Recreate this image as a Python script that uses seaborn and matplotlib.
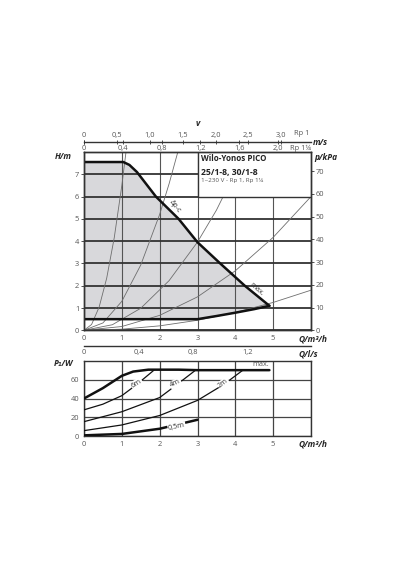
import matplotlib
matplotlib.use("Agg")
import matplotlib.pyplot as plt
import seaborn as sns
from matplotlib.patches import Rectangle

# ---- data ----
# pump curves, H/m over Q/m3/h
max_q = [0, 1.04, 1.2, 1.4, 1.9, 2.5, 3.0, 3.6, 4.25, 4.9]
max_h = [7.55, 7.55, 7.42, 7.1, 6.0, 5.0, 3.95, 3.0, 2.0, 1.1]
min_q = [0, 3.0, 3.5, 4.0, 4.5, 4.9]
min_h = [0.5, 0.5, 0.64, 0.79, 0.95, 1.1]

# system curves (thin grey)
sys_q = [
    [0, 0.2, 0.4, 0.6, 0.8, 1.0, 1.11],
    [0, 0.5, 1.0, 1.5, 2.0, 2.25, 2.48],
    [0, 0.75, 1.5, 2.25, 3.0, 3.5, 4.26],
    [0, 1.0, 2.0, 3.0, 4.0, 5.0, 6.0],
    [0, 1.0, 2.0, 3.0, 4.0, 5.0, 6.0],
]
sys_h = [
    [0, 0.26, 1.04, 2.34, 4.16, 6.5, 8.0],
    [0, 0.33, 1.3, 2.93, 5.2, 6.58, 8.0],
    [0, 0.25, 0.99, 2.23, 3.96, 5.39, 8.0],
    [0, 0.17, 0.67, 1.5, 2.67, 4.17, 6.0],
    [0, 0.05, 0.2, 0.45, 0.8, 1.25, 1.8],
]

# power curves, P1/W over Q/m3/h
p_max_q = [0, 0.5, 1.0, 1.3, 1.7, 2.5, 3.0, 4.0, 4.9]
p_max_w = [40, 51, 64, 68.5, 70.5, 70.5, 70, 70, 70]
p6_q = [0, 0.5, 1.0, 1.4, 1.85]
p6_w = [28, 34, 43, 55, 70]
p4_q = [0, 1.0, 2.0, 2.4, 2.95]
p4_w = [15.5, 26, 41, 53, 70]
p2_q = [0, 1.0, 2.0, 3.0, 3.7, 4.2]
p2_w = [6, 12, 22, 38, 55, 70]
p05_q = [0, 1.0, 2.0, 3.0]
p05_w = [1, 2.5, 8, 17.5]

q_ticks = [0, 1, 2, 3, 4, 5, 6]
q_labels = ['0', '1', '2', '3', '4', '5', '']
h_ticks = [0, 1, 2, 3, 4, 5, 6, 7]
kpa_ticks = [0, 10, 20, 30, 40, 50, 60, 70]
w_ticks = [0, 20, 40, 60]
ls_ticks = [0, 0.4, 0.8, 1.2, 1.6]
ls_labels = ['0', '0,4', '0,8', '1,2', '']
v1_ticks = [0, 0.5, 1.0, 1.5, 2.0, 2.5, 3.0]
v1_labels = ['0', '0,5', '1,0', '1,5', '2,0', '2,5', '3,0']
v114_ticks = [0, 0.4, 0.8, 1.2, 1.6, 2.0]
v114_labels = ['0', '0,4', '0,8', '1,2', '1,6', '2,0']
v1_per_q = 0.575    # m/s per m3/h, Rp 1
v114_per_q = 0.39   # m/s per m3/h, Rp 1 1/4

sns.set_theme(style="white")
plt.rcParams['font.family'] = ['Open Sans', 'DejaVu Sans']

TC = '#555555'
TS = 5.4
LS = 6.0

fig = plt.figure(figsize=(4, 5.7), dpi=100)
L, W = 84 / 400, 227 / 400


def fy(px):
    return 1 - px / 570


def style_axes(a):
    for s in a.spines.values():
        s.set_color('#333333')
        s.set_linewidth(1.0)
        s.set_visible(True)
    a.tick_params(labelsize=TS, labelcolor=TC, length=2, width=0.6,
                  color='#333333', pad=1.5)


# ---------------- upper chart ----------------
ax = fig.add_axes([L, fy(330.3), W, (330.3 - 152) / 570])
ax.fill(max_q + min_q[::-1], max_h + min_h[::-1], color='#d8d8db', lw=0, zorder=0.2)
for qs, hs in zip(sys_q, sys_h):
    sns.lineplot(x=qs, y=hs, ax=ax, color='#6e6e6e', lw=0.6, sort=False,
                 estimator=None, zorder=2)
sns.lineplot(x=max_q, y=max_h, ax=ax, color='#111111', lw=1.8, sort=False,
             estimator=None, zorder=4)
sns.lineplot(x=min_q, y=min_h, ax=ax, color='#111111', lw=1.8, sort=False,
             estimator=None, zorder=4)
ax.set_xlim(0, 6)
ax.set_ylim(0, 8)
ax.set_xticks(q_ticks)
ax.set_xticklabels(q_labels)
ax.set_yticks(h_ticks)
ax.yaxis.grid(True, color='#333333', lw=1.3)
ax.xaxis.grid(True, color='#555555', lw=0.8)
ax.set_axisbelow('line')
style_axes(ax)
ax.set_xlabel('')
ax.set_ylabel('')

# text box
ax.add_patch(Rectangle((3, 6), 3, 2, facecolor='white', edgecolor='#333333',
                       lw=1.0, zorder=5))
ax.text(3.1, 7.7, 'Wilo-Yonos PICO', fontsize=5.8, fontweight='bold',
        color='#222222', va='center', zorder=6)
ax.text(3.1, 7.1, '25/1-8, 30/1-8', fontsize=6.2, fontweight='bold',
        color='#222222', va='center', zorder=6)
ax.text(3.1, 6.7, '1~230 V - Rp 1, Rp 1¼', fontsize=4.5, color=TC,
        va='center', zorder=6)

ax.text(2.42, 5.55, 'Δp-c', fontsize=5.2, color='#333333', rotation=-52,
        ha='center', va='center', zorder=6)
ax.text(4.55, 1.85, 'max.', fontsize=5.2, color='#333333', rotation=-42,
        ha='center', va='center', zorder=6)

axr = ax.twinx()
axr.set_ylim(0, 8 * 9.81)
axr.set_yticks(kpa_ticks)
style_axes(axr)
axr.grid(False)

fig.text(72 / 400, fy(156.5), 'H/m', fontsize=LS, fontweight='bold',
         style='italic', ha='right', va='center')
fig.text(314 / 400, fy(157), 'p/kPa', fontsize=LS, fontweight='bold',
         style='italic', ha='left', va='center')
fig.text(327 / 400, fy(339), 'Q/m³/h', fontsize=LS, fontweight='bold',
         style='italic', ha='right', va='center')

# velocity scale
axv = fig.add_axes([L, fy(142), W, 1e-4])
axv.set_xlim(0, 6)
axv.set_yticks([])
for s in ['left', 'right', 'top']:
    axv.spines[s].set_visible(False)
axv.spines['bottom'].set_color('#333333')
axv.spines['bottom'].set_linewidth(1.0)
axv.set_xticks([v / v114_per_q for v in v114_ticks])
axv.set_xticklabels(v114_labels)
axv.tick_params(labelsize=TS, labelcolor=TC, length=2.2, width=0.6,
                direction='inout', color='#333333', pad=1.0)
axv2 = axv.twiny()
axv2.set_xlim(0, 6)
axv2.set_yticks([])
for s in axv2.spines.values():
    s.set_visible(False)
axv2.set_xticks([v / v1_per_q for v in v1_ticks])
axv2.set_xticklabels(v1_labels)
axv2.tick_params(labelsize=TS, labelcolor=TC, length=2.2, width=0.6,
                 direction='inout', color='#333333', pad=1.0)
fig.text(302 / 400, fy(133), 'Rp 1', fontsize=TS, color=TC, ha='center', va='center')
fig.text(300 / 400, fy(148), 'Rp 1¼', fontsize=TS, color=TC, ha='center', va='center')
fig.text(313 / 400, fy(142.5), 'm/s', fontsize=LS, fontweight='bold',
         style='italic', ha='left', va='center')
fig.text(198 / 400, fy(124), 'v', fontsize=LS, fontweight='bold',
         style='italic', ha='center', va='center')

# l/s scale
axl = fig.add_axes([L, fy(346), W, 1e-4])
axl.set_xlim(0, 6)
axl.set_yticks([])
for s in ['left', 'right', 'top']:
    axl.spines[s].set_visible(False)
axl.spines['bottom'].set_color('#333333')
axl.spines['bottom'].set_linewidth(1.0)
axl.set_xticks([v * 3.6 for v in ls_ticks])
axl.set_xticklabels(ls_labels)
axl.tick_params(labelsize=TS, labelcolor=TC, length=2.5, width=0.6,
                direction='in', color='#333333', pad=2)
fig.text(318 / 400, fy(354), 'Q/l/s', fontsize=LS, fontweight='bold',
         style='italic', ha='right', va='center')

# ---------------- lower chart ----------------
bx = fig.add_axes([L, fy(436.3), W, (436.3 - 360.7) / 570])
sns.lineplot(x=p_max_q, y=p_max_w, ax=bx, color='#111111', lw=1.8, sort=False,
             estimator=None, zorder=4)
for qs, ws in [(p6_q, p6_w), (p4_q, p4_w), (p2_q, p2_w)]:
    sns.lineplot(x=qs, y=ws, ax=bx, color='#111111', lw=0.9, sort=False,
                 estimator=None, zorder=3)
sns.lineplot(x=p05_q, y=p05_w, ax=bx, color='#111111', lw=1.8, sort=False,
             estimator=None, zorder=3)
bx.set_xlim(0, 6)
bx.set_ylim(0, 80)
bx.set_xticks(q_ticks)
bx.set_xticklabels(q_labels)
bx.set_yticks(w_ticks)
bx.grid(True, color='#444444', lw=0.9)
bx.set_axisbelow('line')
style_axes(bx)
bx.set_xlabel('')
bx.set_ylabel('')

lab_kw = dict(fontsize=5.2, color='#333333', ha='center', va='center', zorder=6,
              bbox=dict(facecolor='white', edgecolor='none', pad=0.4))
bx.text(1.39, 56, '6m', rotation=32, **lab_kw)
bx.text(2.42, 56, '4m', rotation=25, **lab_kw)
bx.text(3.68, 56, '2m', rotation=38, **lab_kw)
bx.text(2.45, 10, '0,5m', rotation=12, **lab_kw)
bx.text(4.66, 76, 'max.', fontsize=5.2, color='#555555', ha='center', va='center')

fig.text(73 / 400, fy(364), 'P₁/W', fontsize=LS, fontweight='bold',
         style='italic', ha='right', va='center')
fig.text(327 / 400, fy(443.5), 'Q/m³/h', fontsize=LS, fontweight='bold',
         style='italic', ha='right', va='center')

fig.savefig('out.png', dpi=100, facecolor='white')
